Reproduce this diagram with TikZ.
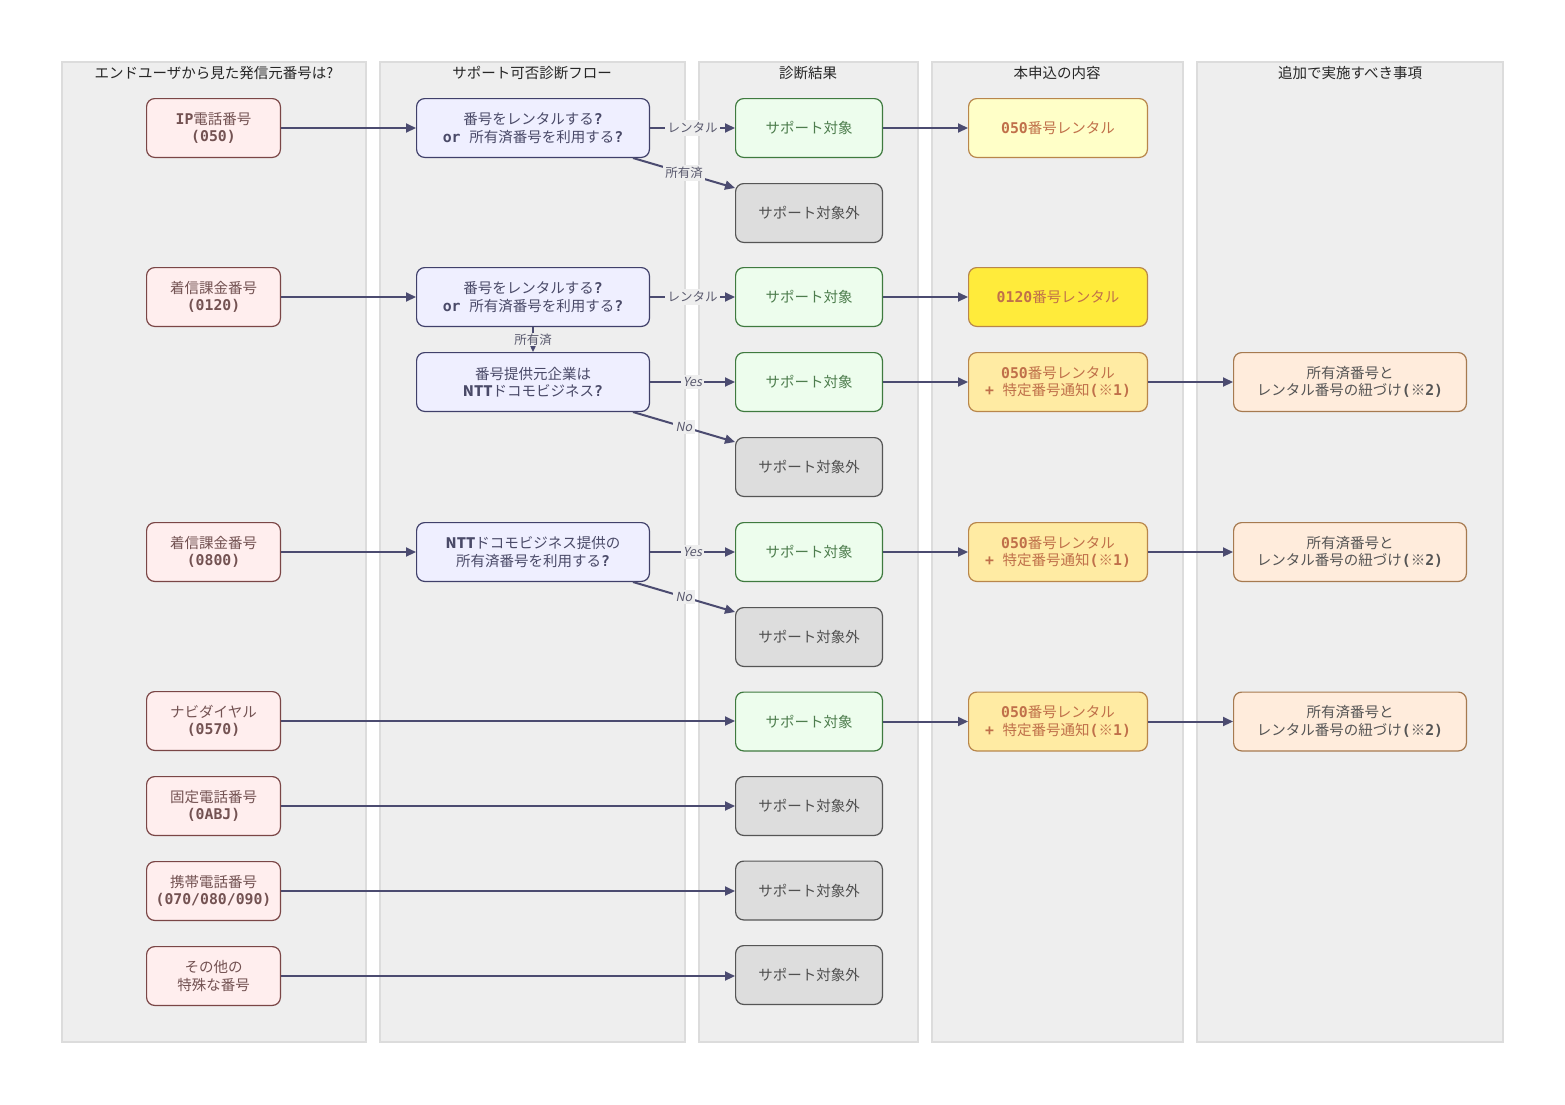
\documentclass[tikz,border=0pt]{standalone}
\usepackage{fontspec}
\setmainfont{Noto Sans CJK JP}
\newfontfamily\monob{DejaVu Sans Mono}[Scale=1.02]
\newfontfamily\jpslant{Noto Sans CJK JP}[FakeSlant=0.2]
\usepackage{xcolor}
\usepackage{tikz}
\usetikzlibrary{arrows.meta,positioning,calc}
\newcommand{\mb}[1]{{\monob\bfseries #1}}
\definecolor{lanebg}{HTML}{EEEEEE}
\definecolor{laneln}{HTML}{DCDCDC}
\definecolor{edgec}{HTML}{4B4B70}
\definecolor{lbltext}{HTML}{5A5A6E}
\definecolor{srcfill}{HTML}{FFEEEE}
\definecolor{srcdraw}{HTML}{7A4646}
\definecolor{srctext}{HTML}{735252}
\definecolor{askfill}{HTML}{EFEFFF}
\definecolor{askdraw}{HTML}{40406A}
\definecolor{asktext}{HTML}{4A4A68}
\definecolor{okfill}{HTML}{EDFDED}
\definecolor{okdraw}{HTML}{3F7A3F}
\definecolor{oktext}{HTML}{4D7D4D}
\definecolor{ngfill}{HTML}{DDDDDD}
\definecolor{ngdraw}{HTML}{555555}
\definecolor{ngtext}{HTML}{505050}
\definecolor{rentdraw}{HTML}{B8864B}
\definecolor{renttext}{HTML}{C0704A}
\definecolor{rentpale}{HTML}{FFFFC8}
\definecolor{rentlemon}{HTML}{FFEB3B}
\definecolor{rentsand}{HTML}{FFEBA3}
\definecolor{todofill}{HTML}{FFECDC}
\definecolor{tododraw}{HTML}{A67A50}
\definecolor{todotext}{HTML}{555555}

\begin{document}
\begin{tikzpicture}[x=1pt,y=-1pt,>={Triangle[length=10pt,width=9pt]},
  lane/.style={fill=lanebg,draw=laneln,line width=2pt},
  head/.style={font=\fontsize{14.5}{17}\selectfont,text=black!85},
  box/.style={draw,rounded corners=8pt,align=center,line width=1.2pt,minimum height=58.8pt,inner sep=3pt,font=\fontsize{14.5}{17.5}\selectfont},
  src/.style={box,minimum width=133.8pt,fill=srcfill,draw=srcdraw,text=srctext},
  ask/.style={box,minimum width=232.8pt,fill=askfill,draw=askdraw,text=asktext},
  ok/.style={box,minimum width=146.8pt,fill=okfill,draw=okdraw,text=oktext},
  ng/.style={box,minimum width=146.8pt,fill=ngfill,draw=ngdraw,text=ngtext},
  rent/.style={box,minimum width=178.8pt,draw=rentdraw,text=renttext},
  todo/.style={box,minimum width=232.8pt,fill=todofill,draw=tododraw,text=todotext},
  flow/.style={->,draw=edgec,line width=2pt},
  lbl/.style={font=\fontsize{12.5}{14}\selectfont,text=lbltext,fill=lanebg,inner sep=2.5pt},
  yn/.style={lbl,font=\fontsize{12.5}{14}\selectfont\jpslant}]
\useasboundingbox[fill=white] (0,0) rectangle (1565,1104);
% lanes
\draw[lane] (62,62) rectangle (366,1042);
\draw[lane] (380,62) rectangle (685,1042);
\draw[lane] (699,62) rectangle (918,1042);
\draw[lane] (932,62) rectangle (1183,1042);
\draw[lane] (1197,62) rectangle (1503,1042);
\node[head] (h1) at (214,73) {エンドユーザから見た発信元番号は?};
\node[head] (h2) at (532,73) {サポート可否診断フロー};
\node[head] (h3) at (808,73) {診断結果};
\node[head] (h4) at (1057,73) {本申込の内容};
\node[head] (h5) at (1350,73) {追加で実施すべき事項};
% sources
\node[src] (ip) at (213.5,128) {\mb{IP}電話番号\\\mb{(050)}};
\node[src] (fd0120) at (213.5,297) {着信課金番号\\\mb{(0120)}};
\node[src] (fd0800) at (213.5,552) {着信課金番号\\\mb{(0800)}};
\node[src] (navi) at (213.5,721) {ナビダイヤル\\\mb{(0570)}};
\node[src] (fixed) at (213.5,806) {固定電話番号\\\mb{(0ABJ)}};
\node[src] (mobile) at (213.5,891) {携帯電話番号\\\mb{(070/080/090)}};
\node[src] (other) at (213.5,976) {その他の\\特殊な番号};
% questions
\node[ask,right=135pt of ip] (qip) {番号をレンタルする\mb{?}\\\mb{or}\hspace{0.6em}所有済番号を利用する\mb{?}};
\node[ask,right=135pt of fd0120] (q0120) {番号をレンタルする\mb{?}\\\mb{or}\hspace{0.6em}所有済番号を利用する\mb{?}};
\node[ask,below=25pt of q0120] (qntt) {番号提供元企業は\\\textbf{NTT}ドコモビジネス\mb{?}};
\node[ask,right=135pt of fd0800] (q0800) {\textbf{NTT}ドコモビジネス提供の\\所有済番号を利用する\mb{?}};
% results
\node[ok,right=85pt of qip] (okip) {サポート対象};
\node[ng,below=25pt of okip] (ngip) {サポート対象外};
\node[ok,right=85pt of q0120] (ok0120) {サポート対象};
\node[ok,right=85pt of qntt] (okntt) {サポート対象};
\node[ng,below=25pt of okntt] (ngntt) {サポート対象外};
\node[ok,right=85pt of q0800] (ok0800) {サポート対象};
\node[ng,below=25pt of ok0800] (ng0800) {サポート対象外};
\node[ok,below=24.5pt of ng0800] (oknavi) {サポート対象};
\node[ng,below=24.5pt of oknavi] (ngfixed) {サポート対象外};
\node[ng,below=24.5pt of ngfixed] (ngmobile) {サポート対象外};
\node[ng,below=24.5pt of ngmobile] (ngother) {サポート対象外};
% applications
\node[rent,fill=rentpale,right=85pt of okip] (rip) {\mb{050}番号レンタル};
\node[rent,fill=rentlemon,right=85pt of ok0120] (r0120) {\mb{0120}番号レンタル};
\node[rent,fill=rentsand,right=85pt of okntt] (rntt) {\mb{050}番号レンタル\\\mb{+}\hspace{0.6em}特定番号通知\mb{(}※\mb{1)}};
\node[rent,fill=rentsand,right=85pt of ok0800] (r0800) {\mb{050}番号レンタル\\\mb{+}\hspace{0.6em}特定番号通知\mb{(}※\mb{1)}};
\node[rent,fill=rentsand,right=85pt of oknavi] (rnavi) {\mb{050}番号レンタル\\\mb{+}\hspace{0.6em}特定番号通知\mb{(}※\mb{1)}};
% follow-up
\node[todo,right=85pt of rntt] (tntt) {所有済番号と\\レンタル番号の紐づけ\mb{(}※\mb{2)}};
\node[todo,right=85pt of r0800] (t0800) {所有済番号と\\レンタル番号の紐づけ\mb{(}※\mb{2)}};
\node[todo,right=85pt of rnavi] (tnavi) {所有済番号と\\レンタル番号の紐づけ\mb{(}※\mb{2)}};
% edges
\draw[flow] (ip) -- (qip);
\draw[flow] (qip) -- node[lbl] {レンタル} (okip);
\draw[flow] ([xshift=-17pt]qip.south east) -- node[lbl] {所有済} ([yshift=-5pt]ngip.north west);
\draw[flow] (okip) -- (rip);
\draw[flow] (fd0120) -- (q0120);
\draw[flow] (q0120) -- node[lbl] {レンタル} (ok0120);
\draw[flow] (q0120) -- node[lbl,inner sep=1pt] {所有済} (qntt);
\draw[flow] (ok0120) -- (r0120);
\draw[flow] (qntt) -- node[yn] {Yes} (okntt);
\draw[flow] ([xshift=-17pt]qntt.south east) -- node[yn] {No} ([yshift=-5pt]ngntt.north west);
\draw[flow] (okntt) -- (rntt);
\draw[flow] (rntt) -- (tntt);
\draw[flow] (fd0800) -- (q0800);
\draw[flow] (q0800) -- node[yn] {Yes} (ok0800);
\draw[flow] ([xshift=-17pt]q0800.south east) -- node[yn] {No} ([yshift=-5pt]ng0800.north west);
\draw[flow] (ok0800) -- (r0800);
\draw[flow] (r0800) -- (t0800);
\draw[flow] (navi) -- (navi -| oknavi.west);
\draw[flow] (oknavi) -- (rnavi);
\draw[flow] (rnavi) -- (tnavi);
\draw[flow] (fixed) -- (fixed -| ngfixed.west);
\draw[flow] (mobile) -- (mobile -| ngmobile.west);
\draw[flow] (other) -- (other -| ngother.west);
\end{tikzpicture}
\end{document}
